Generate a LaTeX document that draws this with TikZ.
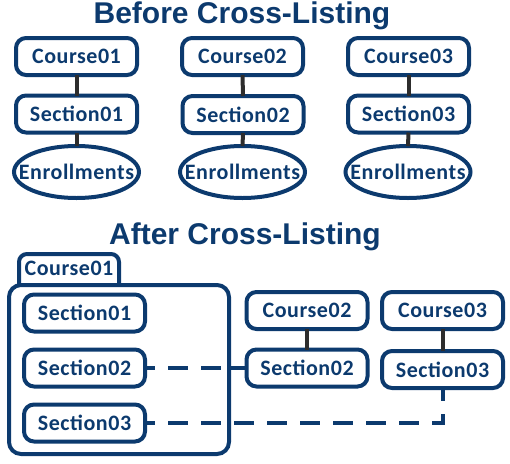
\documentclass[tikz,border=0pt]{standalone}
\usepackage{fontspec}
\setmainfont[LetterSpace=2.5]{Carlito}
\newfontfamily\titlefont{Liberation Sans}
\usetikzlibrary{shapes.geometric}
\definecolor{navy}{RGB}{12,58,110}
\definecolor{conn}{RGB}{45,45,45}
\begin{document}
\begin{tikzpicture}[x=1pt,y=-1pt,
  lbl/.style={text=navy, font=\bfseries\fontsize{22}{24}\selectfont},
  box/.style={lbl, draw=navy, line width=4pt, rounded corners=10pt, minimum width=121pt, minimum height=37pt, inner sep=0pt, outer sep=0pt},
  ell/.style={ellipse, draw=navy, line width=4pt, minimum width=125pt, minimum height=52pt, inner sep=0pt, outer sep=0pt, label={[lbl]center:Enrollments}},
  bigbox/.style={draw=navy, line width=4pt, rounded corners=12pt, minimum width=220pt, minimum height=169pt, inner sep=0pt, outer sep=0pt},
  tabline/.style={draw=navy, line width=4pt, rounded corners=8pt},
  link/.style={draw=conn, line width=4pt},
  solidlink/.style={draw=navy, line width=4pt},
  cross/.style={draw=navy, line width=4pt, dash pattern=on 20pt off 13pt, dash phase=10pt},
  title/.style={text=navy, inner sep=0pt, anchor=base, font=\titlefont\bfseries\fontsize{30}{32}\selectfont}]
\useasboundingbox (0,0) rectangle (510,463);

% titles
\node[title] (t1) at (242,23) {Before Cross-Listing};
\node[title] (t2) at (245,244) {After Cross-Listing};

% before
\node[box] (c1) at (76.5,56.5) {Course01};
\node[box] (s1) at (76.5,114) {Section01};
\node[ell] (e1) at (76.5,172) {};
\node[box] (c2) at (242.5,56.5) {Course02};
\node[box] (s2) at (243,114.5) {Section02};
\node[ell] (e2) at (242.5,172) {};
\node[box] (c3) at (408.5,56.5) {Course03};
\node[box] (s3) at (408.5,114) {Section03};
\node[ell] (e3) at (408,172) {};
\foreach \i in {1,2,3} {
  \draw[link] (c\i.south) -- (s\i.north);
  \draw[link] (s\i.south) -- (e\i.north);
}

% after
\node[bigbox] (big) at (119,369.5) {};
\node[lbl, inner sep=0pt] (tab) at (69,268.5) {Course01};
\draw[tabline] ([xshift=-50pt]tab.center |- big.north) -- ++(0,-31) -- ++(100,0) -- ++(0,31);
\node[box] (is1) at (84.5,313) {Section01};
\node[box] (is2) at (84.5,368) {Section02};
\node[box] (is3) at (84.5,423) {Section03};

\node[box] (rc2) at (307,310.5) {Course02};
\node[box] (rs2) at (307,368) {Section02};
\node[box] (rc3) at (442.5,310.5) {Course03};
\node[box] (rs3) at (442.5,369.5) {Section03};
\draw[link] (rc2.south) -- (rs2.north);
\draw[link] (rc3.south) -- (rs3.north);

\coordinate (bx) at (is2.east -| big.east);
\draw[cross] (is2.east) -- (bx);
\draw[solidlink] (bx) -- (rs2.west);
\draw[cross] (is3.east) -- (is3.east -| rs3.south) -- (rs3.south);
\end{tikzpicture}
\end{document}
